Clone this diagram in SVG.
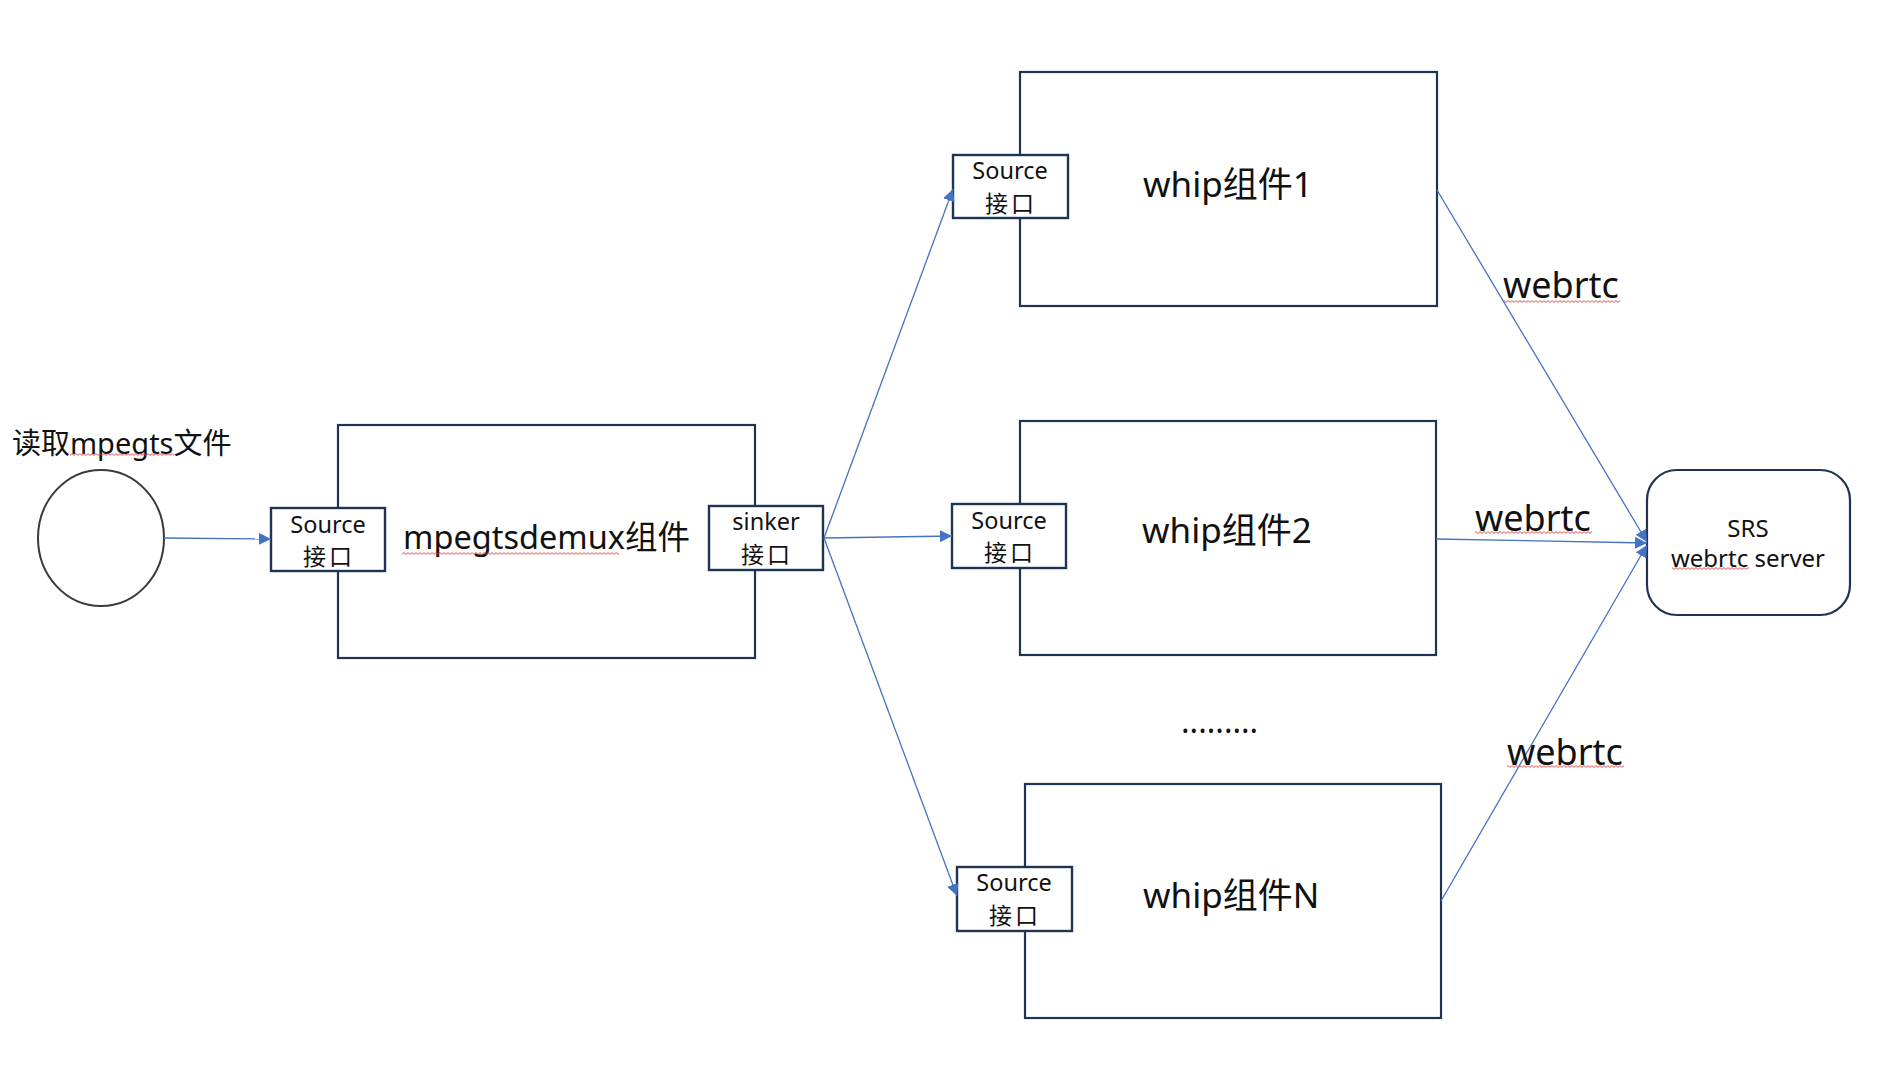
<svg xmlns="http://www.w3.org/2000/svg" width="1881" height="1089" viewBox="0 0 1881 1089">
  <style>
    text { font-family: "Noto Sans", "Noto Sans CJK SC", sans-serif; fill: #111; }
    .box { fill: #fff; stroke: #1f3356; stroke-width: 2.2; }
    .port { fill: #fff; stroke: #1f3356; stroke-width: 2.4; }
    .port-t { font-size: 23.5px; text-anchor: middle; }
    .port-cn { font-size: 23px; text-anchor: middle; letter-spacing: 3px; }
    .title { font-size: 35px; }
    .lbl { font-size: 36px; }
    .link { fill: none; stroke: #4472c4; stroke-width: 1.3; }
    .squiggle { fill: url(#wave); }
  </style>
  <defs>
    <marker id="arrow" markerUnits="userSpaceOnUse" markerWidth="13" markerHeight="13" refX="12" refY="6" orient="auto">
      <path d="M0,0 L12,6 L0,12 z" fill="#4472c4"/>
    </marker>
    <pattern id="wave" patternUnits="userSpaceOnUse" width="4" height="3">
      <path d="M0,0.6 L2,2.4 L4,0.6" fill="none" stroke="#e03c3c" stroke-width="0.9"/>
    </pattern>
  </defs>

  <!-- input file -->
  <g id="file-input">
    <text x="12" y="454" style="font-size:29px">读取mpegts文件</text>
    <rect class="squiggle" x="70" y="453" width="104" height="3"/>
    <ellipse cx="101" cy="538" rx="63" ry="68" fill="#fff" stroke="#3a3a3a" stroke-width="2"/>
  </g>

  <!-- demux component -->
  <g id="mpegtsdemux">
    <rect class="box" x="338" y="425" width="417" height="233"/>
    <text x="403" y="549" style="font-size:32.5px">mpegtsdemux组件</text>
    <rect class="squiggle" x="402" y="552" width="217" height="3"/>
  </g>
  <g id="demux-source">
    <rect class="port" x="271" y="508" width="114" height="63"/>
    <text class="port-t" x="328" y="533">Source</text>
    <text class="port-cn" x="329" y="565">接口</text>
  </g>
  <g id="demux-sinker">
    <rect class="port" x="709" y="506" width="114" height="64"/>
    <text class="port-t" x="766" y="530">sinker</text>
    <text class="port-cn" x="767" y="563">接口</text>
  </g>

  <!-- whip component 1 -->
  <g id="whip1">
    <rect class="box" x="1020" y="72" width="417" height="234"/>
    <text class="title" x="1143" y="197">whip组件1</text>
  </g>
  <g id="whip1-source">
    <rect class="port" x="953" y="155" width="115" height="63"/>
    <text class="port-t" x="1010" y="179">Source</text>
    <text class="port-cn" x="1011" y="212">接口</text>
  </g>

  <!-- whip component 2 -->
  <g id="whip2">
    <rect class="box" x="1020" y="421" width="416" height="234"/>
    <text class="title" x="1142" y="543">whip组件2</text>
  </g>
  <g id="whip2-source">
    <rect class="port" x="952" y="504" width="114" height="64"/>
    <text class="port-t" x="1009" y="529">Source</text>
    <text class="port-cn" x="1010" y="561">接口</text>
  </g>

  <g id="ellipsis">
    <text x="1181" y="733" style="font-size:32px">.........</text>
  </g>

  <!-- whip component N -->
  <g id="whipN">
    <rect class="box" x="1025" y="784" width="416" height="234"/>
    <text class="title" x="1143" y="908">whip组件N</text>
  </g>
  <g id="whipN-source">
    <rect class="port" x="957" y="867" width="115" height="64"/>
    <text class="port-t" x="1014" y="891">Source</text>
    <text class="port-cn" x="1015" y="924">接口</text>
  </g>

  <!-- media server -->
  <g id="srs">
    <rect x="1647" y="470" width="203" height="145" rx="30" ry="30" fill="#fff" stroke="#1f3356" stroke-width="2.2"/>
    <text x="1748" y="537" style="font-size:24px;text-anchor:middle">SRS</text>
    <text x="1748" y="567" style="font-size:24px;text-anchor:middle">webrtc server</text>
    <rect class="squiggle" x="1672" y="567" width="77" height="3"/>
  </g>

  <!-- connectors -->
  <g id="connectors">
    <line class="link" x1="164" y1="538" x2="271" y2="539" marker-end="url(#arrow)"/>
    <line class="link" x1="824" y1="538" x2="953" y2="189" marker-end="url(#arrow)"/>
    <line class="link" x1="824" y1="538" x2="952" y2="536" marker-end="url(#arrow)"/>
    <line class="link" x1="824" y1="538" x2="957" y2="896" marker-end="url(#arrow)"/>
    <line class="link" x1="1437" y1="190" x2="1647" y2="542" marker-end="url(#arrow)"/>
    <line class="link" x1="1436" y1="539" x2="1647" y2="543" marker-end="url(#arrow)"/>
    <line class="link" x1="1441" y1="901" x2="1647" y2="545" marker-end="url(#arrow)"/>
  </g>

  <!-- connector labels -->
  <g id="labels">
    <text class="lbl" x="1503" y="298">webrtc</text>
    <rect class="squiggle" x="1503" y="300" width="117" height="3"/>
    <text class="lbl" x="1475" y="531">webrtc</text>
    <rect class="squiggle" x="1475" y="531" width="117" height="3"/>
    <text class="lbl" x="1507" y="765">webrtc</text>
    <rect class="squiggle" x="1507" y="765" width="117" height="3"/>
  </g>
</svg>
